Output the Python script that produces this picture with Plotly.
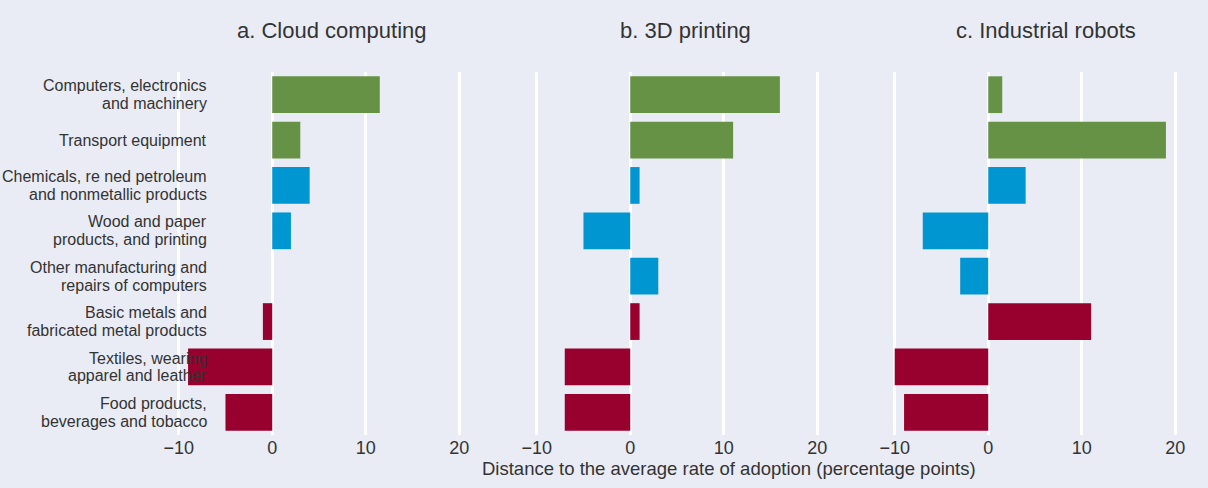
import plotly.graph_objects as go

# Industry categories, top to bottom
categories = [
    "Computers, electronics<br>and machinery",
    "Transport equipment",
    "Chemicals, re ned petroleum<br>and nonmetallic products",
    "Wood and paper<br>products, and printing",
    "Other manufacturing and<br>repairs of computers",
    "Basic metals and<br>fabricated metal products",
    "Textiles, wearing<br>apparel and leather",
    "Food products,<br>beverages and tobacco",
]
tiers = ["high", "high", "medium", "medium", "medium", "low", "low", "low"]

# Distance to the average adoption rate, percentage points
cloud_computing = [11.5, 3, 4, 2, 0, -1, -9, -5]
printing_3d = [16, 11, 1, -5, 3, 1, -7, -7]
industrial_robots = [1.5, 19, 4, -7, -3, 11, -10, -9]

panel_titles = ["a. Cloud computing", "b. 3D printing", "c. Industrial robots"]
tick_values = [-10, 0, 10, 20]
axis_title = "Distance to the average rate of adoption (percentage points)"

tier_colors = {"high": "#669246", "medium": "#0096d2", "low": "#98002e"}
BG = "#e9ecf4"
TEXT = "#333333"
FONT = "Liberation Sans, Arial, sans-serif"

W, H = 1208, 488
x_domains = [(160 / W, 478 / W), (518 / W, 836 / W), (876 / W, 1194 / W)]
y_domain = (1 - 435 / H, 1 - 72 / H)

fig = go.Figure()
series = [cloud_computing, printing_3d, industrial_robots]
for i, values in enumerate(series):
    sfx = "" if i == 0 else str(i + 1)
    fig.add_trace(go.Bar(
        x=values, y=categories, orientation="h",
        marker=dict(color=[tier_colors[t] for t in tiers], line=dict(width=0)),
        width=0.81, xaxis="x" + sfx, yaxis="y" + sfx,
        showlegend=False, hoverinfo="x+y",
    ))
    fig.layout["xaxis" + sfx] = dict(
        domain=x_domains[i], range=[-12, 22], anchor="y" + sfx,
        tickvals=tick_values, showgrid=True, gridcolor="white", gridwidth=2.5,
        zeroline=False, showline=False, ticks="",
        tickfont=dict(size=18, color=TEXT, family=FONT),
    )
    fig.layout["yaxis" + sfx] = dict(
        domain=y_domain, anchor="x" + sfx, autorange="reversed",
        showgrid=False, zeroline=False, showline=False, ticks="",
        showticklabels=False,
    )

annotations = []
# Panel titles
title_x = [6.35, 5.9, 6.2]
for i, t in enumerate(panel_titles):
    sfx = "" if i == 0 else str(i + 1)
    annotations.append(dict(
        text=t, x=title_x[i], xref="x" + sfx, y=1 - 30 / H, yref="paper",
        xanchor="center", yanchor="middle", showarrow=False,
        font=dict(size=22, color=TEXT, family=FONT),
    ))

# Category labels, one annotation per line for tight line spacing
line_h = 17.7
for cat in categories:
    lines = cat.split("<br>")
    n = len(lines)
    for j, ln in enumerate(lines):
        annotations.append(dict(
            text=ln, x=209 / W, xref="paper", y=cat, yref="y",
            xanchor="right", yanchor="middle", showarrow=False,
            yshift=((n - 1) / 2 - j) * line_h,
            font=dict(size=16, color=TEXT, family=FONT),
        ))

# Shared x-axis title
annotations.append(dict(
    text=axis_title, x=729 / W, xref="paper", y=1 - 468 / H, yref="paper",
    xanchor="center", yanchor="middle", showarrow=False,
    font=dict(size=18.5, color=TEXT, family=FONT),
))

fig.update_layout(
    width=W, height=H, margin=dict(l=0, r=0, t=0, b=0),
    paper_bgcolor=BG, plot_bgcolor=BG,
    font=dict(family=FONT, color=TEXT),
    annotations=annotations, bargap=0.19,
)

fig.write_html("out.html")
